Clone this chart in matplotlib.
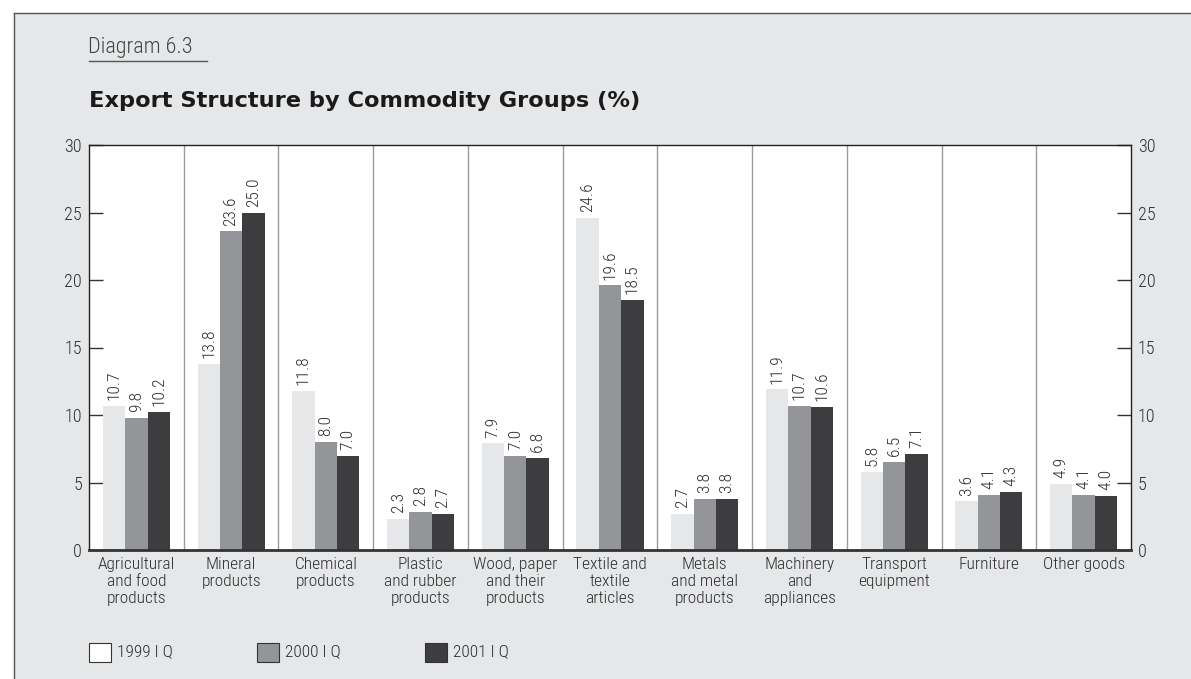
import matplotlib
matplotlib.use("Agg")
import matplotlib.pyplot as plt
from matplotlib import font_manager
from matplotlib.patches import Rectangle
from matplotlib.lines import Line2D
import numpy as np

categories = ["Agricultural\nand food\nproducts", "Mineral\nproducts", "Chemical\nproducts",
              "Plastic\nand rubber\nproducts", "Wood, paper\nand their\nproducts",
              "Textile and\ntextile\narticles", "Metals\nand metal\nproducts",
              "Machinery\nand\nappliances", "Transport\nequipment", "Furniture", "Other goods"]
series_names = ["1999 I Q", "2000 I Q", "2001 I Q"]
v1999 = [10.7, 13.8, 11.8, 2.3, 7.9, 24.6, 2.7, 11.9, 5.8, 3.6, 4.9]
v2000 = [9.8, 23.6, 8.0, 2.8, 7.0, 19.6, 3.8, 10.7, 6.5, 4.1, 4.1]
v2001 = [10.2, 25.0, 7.0, 2.7, 6.8, 18.5, 3.8, 10.6, 7.1, 4.3, 4.0]
yticks = [0, 5, 10, 15, 20, 25, 30]

colors = ["#e6e7e9", "#939598", "#3d3d3f"]
bg = "#e6e7e9"
txt = "#2e2e2e"

names = {f.name for f in font_manager.fontManager.ttflist}
narrow = "Roboto Condensed" if "Roboto Condensed" in names else "DejaVu Sans"
plt.rcParams['font.family'] = [narrow, 'DejaVu Sans']
plt.rcParams['font.weight'] = 300

W, H = 1191, 679
fig = plt.figure(figsize=(W/100, H/100), dpi=100, facecolor="white")

# background frame
fig.add_artist(Rectangle((14/W, 0), 1, 1 - 13/H, transform=fig.transFigure,
                         facecolor=bg, edgecolor="none", zorder=-10))
fig.add_artist(Line2D([14/W, 14/W], [0, 1 - 13/H], transform=fig.transFigure, color="#555555", lw=1))
fig.add_artist(Line2D([14/W, 1], [1 - 13/H, 1 - 13/H], transform=fig.transFigure, color="#555555", lw=1))

# header
fig.text(88/W, 1 - 47/H, "Diagram 6.3", fontsize=16, color="#444444", va="center", ha="left",
         fontweight=300)
fig.add_artist(Line2D([89/W, 207/W], [1 - 61/H, 1 - 61/H], transform=fig.transFigure, color="#555555", lw=1))
fig.text(89/W, 1 - 101/H, "Export Structure by Commodity Groups (%)", fontsize=16.2,
         fontweight="bold", color="#1a1a1a", va="center", ha="left", family=["DejaVu Sans"])

ax = fig.add_axes([89/W, 1 - 550/H, (1131 - 89)/W, (550 - 145)/H])
ax.set_facecolor("white")
x = np.arange(len(categories))
bw = 0.236
for i, (vals, c) in enumerate(zip([v1999, v2000, v2001], colors)):
    bars = ax.bar(x + (i - 1) * bw, vals, width=bw, color=c, edgecolor="none", zorder=2,
                  label=series_names[i])
    for b, v in zip(bars, vals):
        ax.annotate(f"{v:.1f}", (b.get_x() + b.get_width()/2, v), xytext=(0, 4.2),
                    textcoords="offset points", rotation=90, ha="center", va="bottom",
                    fontsize=12.5, color=txt, fontweight=300)

for s in range(len(categories) - 1):
    ax.axvline(s + 0.5, color="#9a9a9a", lw=1, zorder=1)

ax.set_xlim(-0.5, len(categories) - 0.5)
ax.set_ylim(0, 30)
ax.set_yticks(yticks)
ax.set_yticklabels([str(t) for t in yticks])
ax.tick_params(axis="y", direction="in", length=10, width=1, color="#333333",
               labelsize=13, labelcolor=txt, pad=5, left=True, right=True,
               labelleft=True, labelright=True)
ax.set_xticks(x)
ax.set_xticklabels(categories, fontsize=12.5, color=txt, linespacing=1.18, fontweight=300)
ax.tick_params(axis="x", length=0, pad=5)
for sp in ["left", "right", "top"]:
    ax.spines[sp].set_color("#222222")
    ax.spines[sp].set_linewidth(1)
ax.spines["bottom"].set_color("#333333")
ax.spines["bottom"].set_linewidth(2)

# legend
lx = [89, 257, 425]
for xi, c, n in zip(lx, colors, series_names):
    fig.add_artist(Rectangle((xi/W, 1 - 662/H), 22/W, 19/H, transform=fig.transFigure,
                             facecolor=c if c != bg else "white", edgecolor="#333333", lw=0.8))
    fig.text((xi + 28)/W, 1 - 652/H, n, fontsize=12.5, color=txt, va="center", ha="left",
             fontweight=300)

fig.savefig("out.png", dpi=100, facecolor="white")
